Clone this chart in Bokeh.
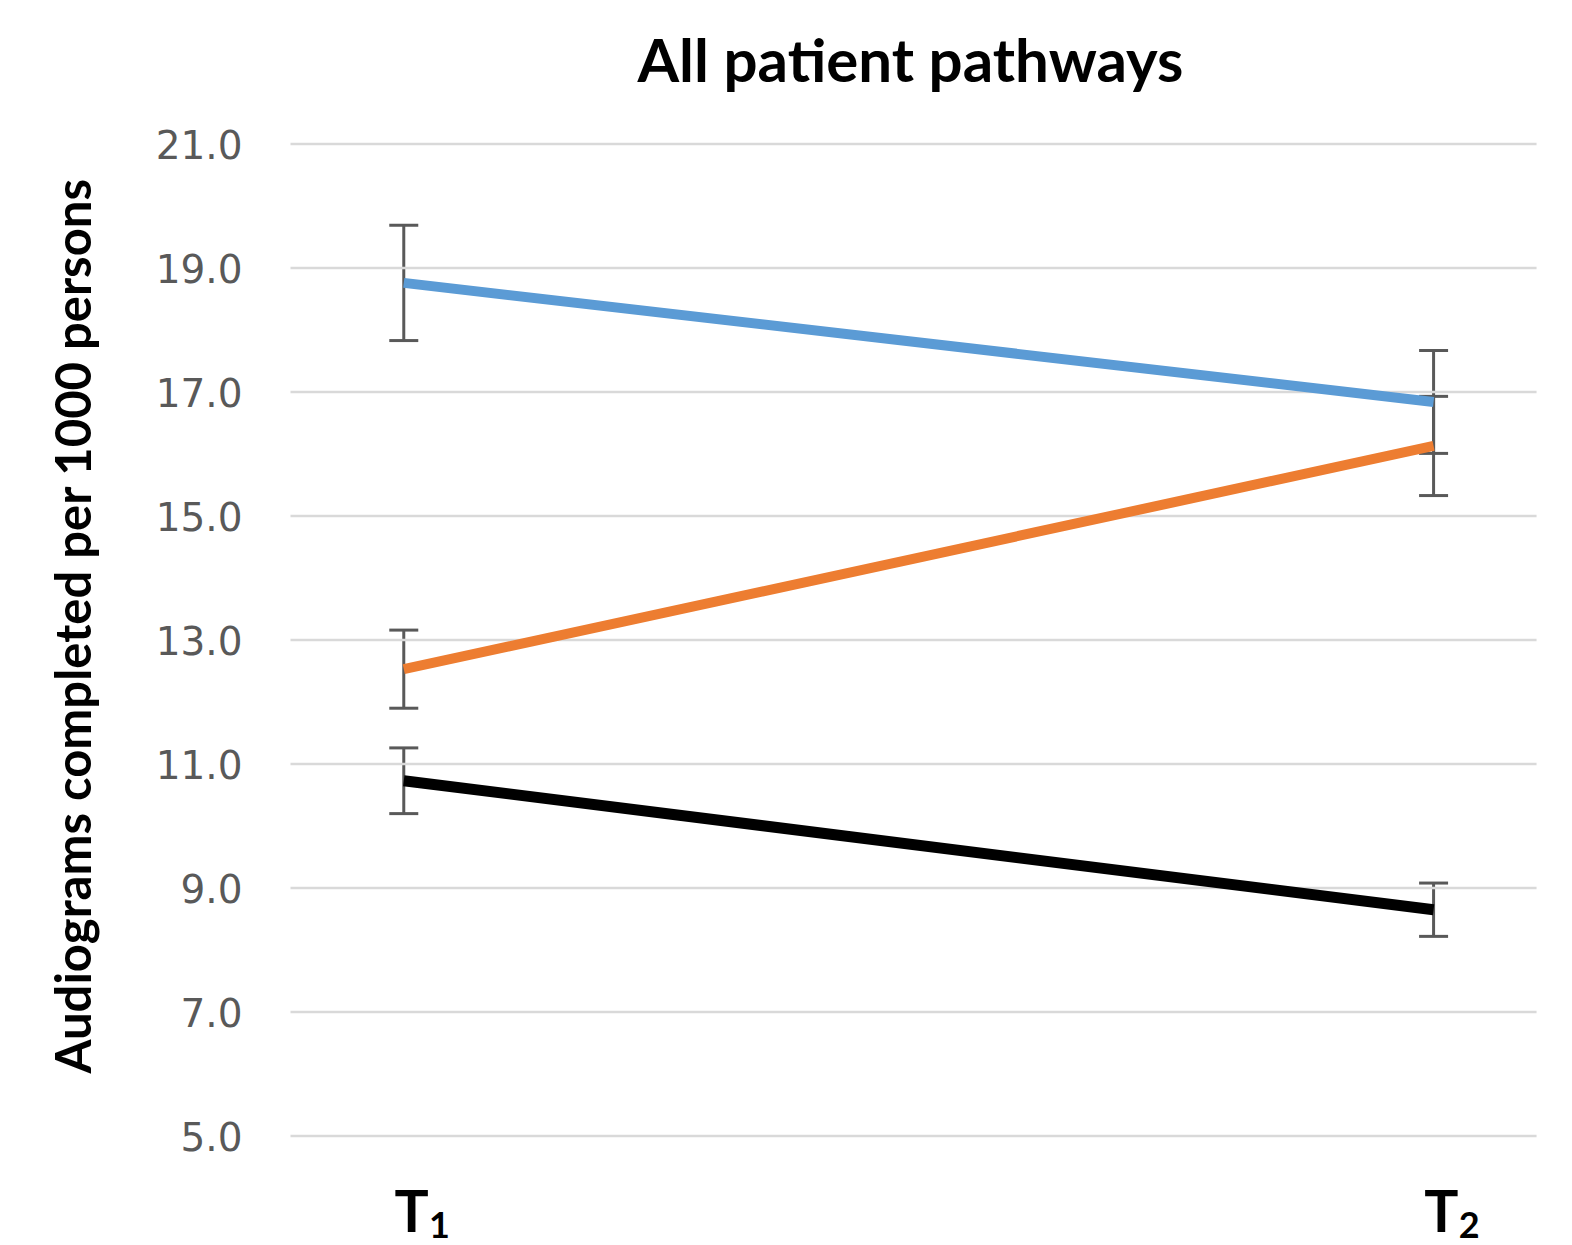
import numpy as np
from bokeh.plotting import figure
from bokeh.models import Whisker, TeeHead, ColumnDataSource
from bokeh.core.properties import value
from bokeh.embed import file_html
from bokeh.resources import INLINE

# ---- data ----
time_points = ["T", "T"]
time_subscripts = ["1", "2"]
series_names = ["Blue pathway", "Orange pathway", "Black pathway"]
blue_values = [18.76, 16.84]
blue_errors = [0.93, 0.83]
orange_values = [12.53, 16.13]
orange_errors = [0.63, 0.80]
black_values = [10.73, 8.65]
black_errors = [0.53, 0.43]
y_ticks = [5, 7, 9, 11, 13, 15, 17, 19, 21]
y_tick_labels = ["5.0", "7.0", "9.0", "11.0", "13.0", "15.0", "17.0", "19.0", "21.0"]
title_text = "All patient pathways"
y_label_text = "Audiograms completed per 1000 persons"

colors = ["#5B9BD5", "#ED7D31", "#000000"]
xs = list(range(len(time_points)))

W, H = 1572, 1245
# the frame covers the whole canvas; ranges chosen so that the plot area sits where the reference has it
p = figure(width=W, height=H, output_backend="svg", toolbar_location=None,
           x_range=(-0.3916, 1.1349), y_range=(3.234, 23.315),
           min_border=0)
p.outline_line_color = None
p.background_fill_color = "white"
p.border_fill_color = "white"
p.axis.visible = False
p.grid.visible = False

grid_x0, grid_x1 = -0.11, 1.10
# horizontal gridlines
p.segment(x0=[grid_x0] * len(y_ticks), x1=[grid_x1] * len(y_ticks), y0=y_ticks, y1=y_ticks,
          line_color="#D9D9D9", line_width=2.5)

# y tick labels
p.text(x=[-0.1566] * len(y_ticks), y=y_ticks, text=y_tick_labels, text_font=value("DejaVu Sans"),
       text_font_size="39px", text_color="#595959", text_align="right", text_baseline="middle")

# error bars (under the lines)
for vals, errs in [(blue_values, blue_errors), (orange_values, orange_errors), (black_values, black_errors)]:
    src = ColumnDataSource(dict(x=xs, upper=[v + e for v, e in zip(vals, errs)],
                                lower=[v - e for v, e in zip(vals, errs)]))
    w = Whisker(source=src, base="x", upper="upper", lower="lower", dimension="height",
                line_color="#595959", line_width=3, level="underlay",
                upper_head=TeeHead(size=29, line_color="#595959", line_width=3),
                lower_head=TeeHead(size=29, line_color="#595959", line_width=3))
    p.add_layout(w)

for vals, col, lw in [(blue_values, colors[0], 10), (orange_values, colors[1], 10), (black_values, colors[2], 11)]:
    p.line(xs, vals, line_color=col, line_width=lw)

# title
p.text(x=[0.492], y=[22.37], text=[title_text], text_font=value("Lato"), text_font_style="bold",
       text_font_size="60px", text_align="center", text_baseline="alphabetic", text_color="black")
# y axis label
p.text(x=[-0.3217], y=[13.23], text=[y_label_text], angle=np.pi / 2, text_font=value("Lato"),
       text_font_style="bold", text_font_size="49px", text_align="center", text_baseline="middle",
       text_color="black")
# x category labels with subscripts
p.text(x=[xi + 0.0075 for xi in xs], y=[3.80] * len(xs), text=time_points, text_font=value("Lato"),
       text_font_style="bold", text_font_size="57px", text_align="center", text_baseline="alphabetic",
       text_color="black")
p.text(x=[xi + 0.0245 for xi in xs], y=[3.57] * len(xs), text=time_subscripts, text_font=value("Lato"),
       text_font_style="bold", text_font_size="36px", text_align="left", text_baseline="alphabetic",
       text_color="black")

open("out.html", "w").write(file_html(p, INLINE))
